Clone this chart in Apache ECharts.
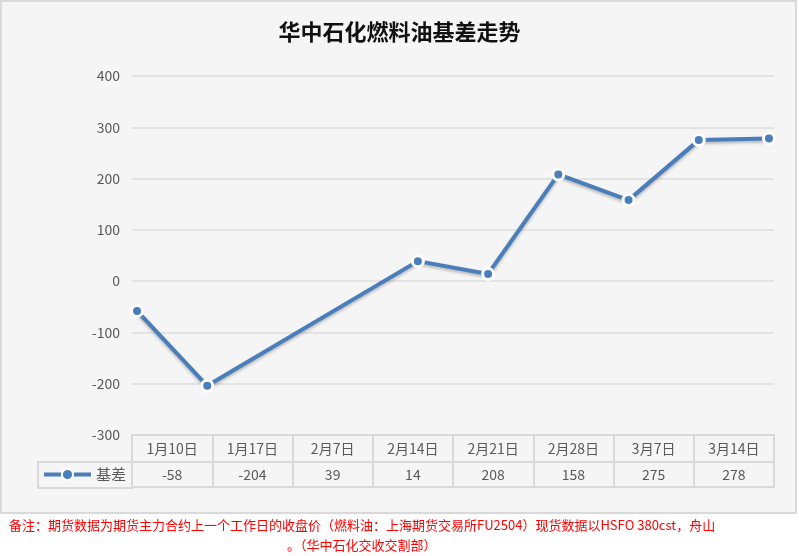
<!DOCTYPE html>
<html>
<head>
<meta charset="utf-8">
<script src="https://cdn.jsdelivr.net/npm/echarts@6/dist/echarts.min.js"></script>
<style>
html,body{margin:0;padding:0;background:#ffffff;}
#main{width:799px;height:556px;}
</style>
</head>
<body>
<div id="main"></div>
<script>
var titleText = '华中石化燃料油基差走势';
var seriesName = '基差';
var dates = ['2025-01-10','2025-01-17','2025-02-07','2025-02-14','2025-02-21','2025-02-28','2025-03-07','2025-03-14'];
var categories = ['1月10日','1月17日','2月7日','2月14日','2月21日','2月28日','3月7日','3月14日'];
var values = [-58, -204, 39, 14, 208, 158, 275, 278];
var yMin = -300, yMax = 400, yStep = 100;
var noteLine1 = '备注：期货数据为期货主力合约上一个工作日的收盘价（燃料油：上海期货交易所FU2504）现货数据以HSFO 380cst，舟山';
var noteLine2 = '。（华中石化交收交割部）';

var gray = '#595959';
var border = '#d9d9d9';
var blue = '#4a7ebb';
var font = '"Noto Sans CJK SC", sans-serif';

var chart = echarts.init(document.getElementById('main'));
var lineData = dates.map(function (d, i) { return [d, values[i]]; });

chart.setOption({
  animation: false,
  textStyle: { fontFamily: font },
  graphic: [
    { type: 'rect', z: -10, shape: { x: 1, y: 1, width: 795, height: 512 },
      style: { fill: '#f5f5f5', stroke: border, lineWidth: 2 } },
    { type: 'rect', z: 10, shape: { x: 38, y: 462, width: 94, height: 26 },
      style: { fill: 'none', stroke: border, lineWidth: 2 } },
    { type: 'text', left: 9, top: 519, z: 10,
      style: { text: noteLine1, fill: '#ff0000', font: '13px ' + font } },
    { type: 'text', left: 287, top: 539, z: 10,
      style: { text: noteLine2, fill: '#ff0000', font: '13px ' + font } }
  ],
  title: {
    text: titleText, left: 'center', top: 16,
    textStyle: { fontSize: 22, fontWeight: 'bold', color: '#111', fontFamily: font }
  },
  legend: {
    left: 42, top: 467, padding: 0, itemWidth: 47, itemHeight: 14, itemGap: 4,
    lineStyle: { width: 4 },
    textStyle: { color: gray, fontSize: 15, fontFamily: font },
    data: [seriesName]
  },
  grid: { left: 132, right: 25, top: 76, bottom: 121 },
  yAxis: {
    type: 'value', min: yMin, max: yMax, interval: yStep,
    axisLine: { show: false }, axisTick: { show: false },
    axisLabel: { color: gray, fontSize: 14, margin: 12 },
    splitLine: { lineStyle: { color: '#e3e3e3', width: 2 } }
  },
  xAxis: [
    { type: 'category', data: categories, position: 'bottom', boundaryGap: true,
      axisLine: { show: true, onZero: false, lineStyle: { color: border, width: 2 } },
      axisTick: { show: true, interval: 0, length: 52, lineStyle: { color: border, width: 2 } },
      axisLabel: { color: gray, fontSize: 14, margin: 7, interval: 0 } },
    { type: 'category', data: values.map(String), position: 'bottom', offset: 27, boundaryGap: true,
      axisLine: { show: true, onZero: false, lineStyle: { color: border, width: 2 } },
      axisTick: { show: false },
      axisLabel: { color: gray, fontSize: 14, margin: 6, interval: 0 } },
    { type: 'category', data: categories, position: 'bottom', offset: 52, boundaryGap: true,
      axisLine: { show: true, onZero: false, lineStyle: { color: border, width: 2 } },
      axisTick: { show: false }, axisLabel: { show: false } },
    { type: 'time', show: false,
      min: new Date('2025-01-09T12:00:00').getTime(),
      max: new Date('2025-03-14T12:00:00').getTime() }
  ],
  series: [{
    name: seriesName, type: 'line', xAxisIndex: 3, data: lineData,
    symbol: 'circle', symbolSize: 11,
    lineStyle: { color: blue, width: 4, shadowBlur: 3, shadowColor: 'rgba(0,0,0,0.25)', shadowOffsetY: 2 },
    itemStyle: { color: blue, borderColor: '#ffffff', borderWidth: 3 }
  }]
});
</script>
</body>
</html>
